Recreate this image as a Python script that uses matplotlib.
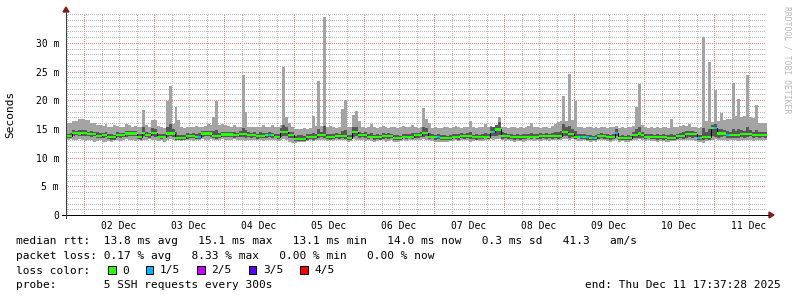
import matplotlib
matplotlib.use('Agg')
import matplotlib.pyplot as plt
import numpy as np
from matplotlib.lines import Line2D
from matplotlib.patches import Rectangle, Polygon

W, H = 797, 297
plt.rcParams['font.family'] = 'DejaVu Sans Mono'
plt.rcParams['lines.scale_dashes'] = False

# time in hours since 2025-12-01 00:00, hourly bins starting Dec 01 18:00
t_end = 10 * 24 + 17 + 37 / 60 + 28 / 3600
t_start = t_end - 240
first_bin = 18

# median rtt per hour (ms)
rtt_med = [
    13.8, 13.8, 14.35, 14.35, 14.2, 14.35, 14.35, 14.1, 14.1, 14.1, 13.8, 13.8, 13.95, 13.95, 13.55, 13.55, 13.55, 13.95, 13.95, 13.95, 14.2, 14.2, 14.2, 14.2,
    13.55, 13.55, 14.35, 13.95, 13.95, 14.35, 14.35, 13.65, 13.65, 13.65, 14.2, 14.2, 14.2, 13.4, 13.4, 13.4, 13.4, 13.8, 13.8, 13.8, 13.65, 13.65, 14.2, 14.2,
    14.2, 14.2, 13.8, 13.8, 13.8, 14.05, 14.05, 14.05, 14.05, 13.95, 13.95, 14.1, 14.1, 14.1, 13.95, 13.95, 13.95, 13.8, 13.8, 13.8, 13.95, 13.95, 13.95, 13.65,
    13.65, 14.5, 14.5, 14.5, 13.95, 13.95, 13.2, 13.2, 13.3, 13.2, 13.55, 13.55, 13.55, 13.55, 13.95, 13.95, 13.95, 13.55, 13.55, 13.55, 13.8, 13.8, 13.8, 13.8,
    13.4, 13.4, 14.5, 14.5, 13.95, 13.95, 13.95, 13.65, 13.65, 13.55, 13.55, 13.55, 13.8, 13.8, 13.8, 13.8, 13.4, 13.4, 13.4, 13.65, 13.65, 13.65, 13.65, 13.95,
    13.95, 13.95, 14.35, 14.35, 13.65, 13.65, 13.55, 13.55, 13.4, 13.4, 13.4, 13.4, 13.65, 13.65, 13.65, 13.8, 13.8, 13.8, 13.8, 13.55, 13.55, 13.55, 13.65, 13.65,
    13.65, 14.5, 14.5, 14.9, 14.9, 13.8, 13.8, 13.8, 13.55, 13.55, 13.55, 13.55, 13.55, 13.65, 13.65, 13.65, 13.65, 13.65, 13.8, 13.8, 13.8, 13.8, 13.8, 13.8,
    13.8, 13.8, 14.5, 14.5, 14.1, 14.1, 13.65, 13.65, 13.65, 13.55, 13.55, 13.4, 13.4, 13.4, 13.8, 13.8, 13.8, 13.55, 13.55, 13.55, 14.35, 13.4, 13.4, 13.4,
    13.4, 13.4, 13.95, 13.95, 14.2, 13.95, 13.65, 13.65, 13.65, 13.55, 13.55, 13.55, 13.55, 13.55, 13.4, 13.4, 13.4, 13.8, 13.8, 13.8, 14.1, 14.1, 14.1, 14.1,
    13.4, 13.4, 13.65, 13.65, 13.65, 15.1, 15.1, 14.2, 14.2, 14.2, 13.95, 13.95, 13.95, 13.95, 13.95, 14.1, 14.1, 14.1, 14.1, 13.95, 13.95, 13.95, 13.95, 13.95,
]

# slowest ping per hour (top of the smoke)
rtt_max = [
    16.1, 16.0, 16.3, 16.3, 16.7, 16.8, 16.6, 16.5, 16.0, 16.1, 15.7, 15.6, 15.5, 15.8, 15.4, 15.3, 15.6, 15.5, 15.3, 15.4, 15.9, 15.6, 15.3, 15.5,
    15.3, 15.4, 18.3, 15.6, 15.3, 16.6, 16.6, 15.5, 15.3, 15.2, 19.8, 22.4, 15.8, 18.9, 16.6, 15.4, 15.2, 15.3, 15.4, 15.3, 15.5, 15.3, 15.4, 15.5,
    15.9, 15.6, 17.1, 19.8, 15.6, 15.8, 15.6, 15.5, 15.4, 15.6, 15.3, 15.4, 24.4, 18.0, 15.4, 15.3, 15.4, 15.3, 15.3, 15.6, 15.3, 15.4, 15.6, 15.3,
    15.4, 15.6, 25.8, 17.1, 16.0, 15.3, 15.0, 14.9, 15.0, 15.1, 15.0, 15.2, 17.3, 15.5, 23.3, 15.5, 34.5, 15.4, 15.5, 15.3, 15.2, 15.3, 18.4, 20.1,
    15.4, 15.3, 17.4, 18.2, 16.3, 15.3, 15.2, 15.3, 15.9, 15.3, 15.2, 15.3, 15.5, 15.3, 15.2, 15.4, 15.3, 15.2, 15.4, 15.5, 15.3, 15.4, 15.6, 15.3,
    15.2, 15.4, 18.6, 16.7, 16.0, 15.2, 15.3, 15.1, 15.2, 15.4, 15.3, 15.2, 15.3, 15.5, 15.3, 15.2, 15.4, 15.3, 16.4, 15.3, 15.2, 15.4, 15.3, 15.8,
    15.4, 15.5, 15.3, 15.6, 17.1, 15.4, 15.3, 15.2, 15.3, 15.4, 15.2, 15.3, 15.2, 15.3, 15.5, 16.0, 15.4, 15.3, 15.2, 15.3, 15.4, 15.2, 15.5, 15.8,
    16.2, 16.4, 20.8, 16.3, 24.6, 16.5, 19.9, 15.4, 15.3, 15.2, 15.4, 15.3, 15.2, 15.3, 15.2, 15.4, 15.3, 15.2, 15.4, 15.3, 15.5, 15.2, 15.3, 15.2,
    15.4, 15.3, 15.5, 18.9, 22.9, 15.6, 15.3, 15.2, 15.3, 15.2, 15.3, 15.2, 15.4, 15.3, 15.2, 16.8, 15.3, 15.4, 15.5, 15.7, 15.5, 15.8, 15.4, 15.3,
    15.2, 15.3, 31.1, 16.3, 26.7, 16.2, 21.7, 16.4, 17.7, 16.5, 16.7, 16.8, 23.0, 17.3, 20.3, 17.1, 17.2, 24.4, 17.1, 16.9, 19.2, 16.1, 16.1, 16.1,
]

# fastest ping per hour (bottom of the smoke)
rtt_min = [
    13.1, 13.2, 13.0, 13.1, 13.2, 13.0, 12.9, 13.1, 13.0, 12.8, 12.9, 13.1, 12.7, 12.8, 12.9, 12.8, 13.0, 13.1, 12.9, 13.1, 13.2, 13.1, 13.0, 12.9,
    13.0, 12.9, 13.1, 13.0, 13.2, 13.1, 13.0, 12.9, 13.0, 12.8, 13.1, 13.2, 13.0, 12.9, 13.0, 12.9, 13.0, 13.1, 13.0, 12.9, 13.0, 13.0, 13.2, 13.1,
    13.1, 13.2, 13.0, 13.1, 13.1, 13.2, 13.1, 13.0, 13.1, 13.2, 13.1, 13.0, 13.1, 12.9, 13.0, 13.1, 13.0, 13.1, 13.0, 12.9, 13.1, 13.0, 13.1, 13.0,
    12.9, 13.0, 13.2, 13.1, 12.7, 12.6, 12.6, 12.7, 12.7, 12.8, 12.9, 13.0, 12.9, 13.0, 13.1, 13.0, 13.1, 12.9, 13.0, 12.9, 13.0, 13.1, 13.1, 13.0,
    12.8, 12.9, 13.2, 13.1, 13.0, 13.1, 12.9, 13.0, 12.9, 12.8, 12.9, 13.0, 13.0, 12.8, 12.9, 13.0, 12.8, 12.7, 12.9, 13.0, 12.9, 13.0, 13.1, 13.0,
    13.0, 13.1, 13.2, 13.0, 13.0, 12.9, 12.8, 12.7, 12.8, 12.7, 12.8, 12.9, 12.9, 13.0, 12.9, 13.0, 13.1, 13.0, 12.8, 12.9, 13.0, 12.9, 12.9, 13.0,
    13.0, 13.2, 13.1, 13.3, 13.2, 13.0, 12.9, 13.0, 12.9, 12.8, 12.9, 12.9, 12.8, 12.9, 13.0, 13.0, 12.9, 13.0, 12.9, 13.0, 13.0, 12.9, 13.0, 13.0,
    13.1, 13.1, 13.2, 13.3, 13.1, 13.2, 13.0, 12.9, 12.9, 13.0, 12.9, 12.8, 12.9, 12.8, 13.0, 13.1, 13.0, 12.9, 12.8, 12.9, 13.1, 12.8, 12.9, 12.8,
    12.8, 12.9, 13.0, 13.1, 13.2, 13.0, 12.9, 13.0, 12.9, 12.9, 12.8, 12.9, 12.9, 12.8, 12.8, 12.9, 12.9, 13.0, 13.1, 13.0, 13.1, 13.1, 13.0, 12.9,
    12.8, 12.7, 12.6, 12.9, 13.0, 13.1, 13.3, 13.1, 13.0, 13.0, 12.9, 13.0, 13.0, 13.1, 12.9, 13.0, 13.1, 13.0, 13.0, 12.9, 13.0, 13.1, 13.0, 13.0,
]

# inner pings (2nd and 4th of 5) as distance above / below the median
spread_up = [
    0.4, 0.5, 0.4, 0.3, 0.6, 0.5, 0.4, 0.4, 0.5, 0.4, 0.6, 0.5, 0.4, 0.5, 0.6, 0.5, 0.4, 0.5, 0.4, 0.4, 0.5, 0.4, 0.4, 0.5,
    0.5, 0.6, 0.9, 0.5, 0.4, 0.8, 0.6, 0.5, 0.4, 0.5, 1.2, 1.6, 0.7, 1.0, 0.6, 0.5, 0.6, 0.5, 0.4, 0.5, 0.5, 0.6, 0.4, 0.5,
    0.5, 0.4, 0.8, 1.0, 0.5, 0.5, 0.4, 0.5, 0.4, 0.5, 0.4, 0.5, 1.1, 0.7, 0.5, 0.4, 0.5, 0.4, 0.6, 0.5, 0.4, 0.5, 0.4, 0.5,
    0.5, 0.6, 1.2, 0.9, 0.6, 0.5, 0.6, 0.7, 0.6, 0.5, 0.6, 0.5, 0.8, 0.6, 1.1, 0.6, 1.5, 0.5, 0.6, 0.5, 0.5, 0.4, 0.9, 1.0,
    0.6, 0.5, 0.9, 0.9, 0.6, 0.4, 0.5, 0.5, 0.6, 0.4, 0.5, 0.4, 0.5, 0.4, 0.5, 0.4, 0.6, 0.5, 0.4, 0.5, 0.4, 0.5, 0.6, 0.4,
    0.4, 0.5, 1.0, 0.8, 0.6, 0.5, 0.4, 0.5, 0.6, 0.5, 0.4, 0.5, 0.4, 0.5, 0.4, 0.5, 0.4, 0.5, 0.7, 0.4, 0.5, 0.4, 0.5, 0.6,
    0.5, 0.8, 0.9, 1.2, 1.3, 0.6, 0.5, 0.4, 0.5, 0.4, 0.5, 0.4, 0.5, 0.4, 0.5, 0.7, 0.5, 0.4, 0.5, 0.4, 0.5, 0.4, 0.5, 0.6,
    0.7, 0.8, 1.3, 0.8, 1.4, 0.8, 1.0, 0.5, 0.4, 0.5, 0.4, 0.5, 0.4, 0.5, 0.4, 0.5, 0.4, 0.5, 0.4, 0.5, 0.6, 0.4, 0.5, 0.4,
    0.5, 0.4, 0.6, 1.0, 1.2, 0.6, 0.5, 0.4, 0.5, 0.4, 0.5, 0.4, 0.5, 0.4, 0.5, 0.8, 0.5, 0.4, 0.5, 0.6, 0.5, 0.6, 0.5, 0.4,
    0.5, 0.6, 1.5, 0.8, 1.4, 0.6, 0.8, 0.7, 0.8, 0.6, 0.7, 0.6, 1.1, 0.7, 1.0, 0.7, 0.6, 1.2, 0.7, 0.6, 0.9, 0.6, 0.5, 0.5,
]
spread_dn = [
    0.4, 0.3, 0.5, 0.4, 0.5, 0.6, 0.5, 0.4, 0.5, 0.4, 0.3, 0.4, 0.5, 0.4, 0.3, 0.4, 0.5, 0.4, 0.5, 0.4, 0.6, 0.5, 0.4, 0.5,
    0.3, 0.4, 0.6, 0.4, 0.5, 0.6, 0.7, 0.3, 0.4, 0.3, 0.6, 0.5, 0.6, 0.3, 0.4, 0.3, 0.4, 0.5, 0.4, 0.3, 0.4, 0.4, 0.6, 0.5,
    0.5, 0.6, 0.4, 0.5, 0.4, 0.5, 0.4, 0.5, 0.4, 0.5, 0.4, 0.5, 0.5, 0.6, 0.4, 0.5, 0.4, 0.5, 0.4, 0.3, 0.5, 0.4, 0.5, 0.3,
    0.4, 0.9, 0.8, 0.7, 0.5, 0.6, 0.3, 0.3, 0.4, 0.3, 0.4, 0.3, 0.4, 0.3, 0.5, 0.4, 0.5, 0.3, 0.4, 0.3, 0.4, 0.5, 0.4, 0.5,
    0.3, 0.4, 0.9, 0.8, 0.5, 0.4, 0.5, 0.4, 0.3, 0.4, 0.3, 0.4, 0.5, 0.4, 0.5, 0.4, 0.3, 0.3, 0.4, 0.3, 0.4, 0.3, 0.4, 0.5,
    0.5, 0.4, 0.7, 0.6, 0.4, 0.3, 0.4, 0.3, 0.3, 0.4, 0.3, 0.4, 0.3, 0.4, 0.5, 0.4, 0.5, 0.4, 0.5, 0.3, 0.4, 0.3, 0.4, 0.3,
    0.4, 0.8, 0.8, 1.1, 1.0, 0.5, 0.4, 0.5, 0.3, 0.4, 0.3, 0.4, 0.3, 0.4, 0.3, 0.4, 0.3, 0.4, 0.5, 0.4, 0.5, 0.4, 0.5, 0.4,
    0.5, 0.4, 0.8, 0.7, 0.6, 0.5, 0.4, 0.3, 0.4, 0.3, 0.4, 0.3, 0.4, 0.3, 0.5, 0.4, 0.5, 0.3, 0.4, 0.3, 0.6, 0.3, 0.4, 0.3,
    0.3, 0.4, 0.5, 0.6, 0.7, 0.5, 0.4, 0.3, 0.4, 0.3, 0.4, 0.3, 0.4, 0.3, 0.3, 0.4, 0.3, 0.5, 0.4, 0.5, 0.6, 0.5, 0.6, 0.5,
    0.3, 0.4, 0.6, 0.4, 0.5, 1.4, 1.5, 0.7, 0.6, 0.5, 0.6, 0.5, 0.6, 0.5, 0.6, 0.5, 0.6, 0.5, 0.4, 0.5, 0.4, 0.5, 0.4, 0.5,
]

# hours (bin index) where 1 of 5 pings was lost
loss_1of5_bins = [45, 69, 127, 146, 176, 178, 180, 188, 216, 222, 226]

day_labels = ['02 Dec', '03 Dec', '04 Dec', '05 Dec', '06 Dec',
              '07 Dec', '08 Dec', '09 Dec', '10 Dec', '11 Dec']
y_ticks = [0, 5, 10, 15, 20, 25, 30]
y_labels = ['0', '5 m', '10 m', '15 m', '20 m', '25 m', '30 m']

loss_names = ['0', '1/5', '2/5', '3/5', '4/5']
loss_colors = ['#26ff00', '#00b8ff', '#c800ff', '#5a00ff', '#ff0000']

stat_lines = [
    'median rtt:  13.8 ms avg   15.1 ms max   13.1 ms min   14.0 ms now   0.3 ms sd   41.3   am/s',
    'packet loss: 0.17 % avg   8.33 % max   0.00 % min   0.00 % now',
    'loss color:',
    'probe:       5 SSH requests every 300s',
]
end_text = 'end: Thu Dec 11 17:37:28 2025'

# ---------------------------------------------------------------------------
med = np.array(rtt_med)
mx = np.array(rtt_max)
mn = np.array(rtt_min)
inner_hi = np.minimum(med + np.array(spread_up), mx)
inner_lo = np.maximum(med - np.array(spread_dn), mn)
edges = first_bin + np.arange(len(med) + 1)


def ext(a):
    return np.append(a, a[-1])


def fx(px):
    return px / W


def fy(py):
    return 1 - py / H


fig = plt.figure(figsize=(W / 100, H / 100), dpi=100)
fig.patch.set_facecolor('white')
ax = fig.add_axes([fx(65.5), fy(215), 700 / W, (215 - 13) / H])
ax.set_xlim(t_start, t_end)
ax.set_ylim(0, 35.2)
for s in ax.spines.values():
    s.set_visible(False)

# grid (sparse 1px dots, under the data)
px = 0.72
dot = (0, (px, 2 * px))
minor_c, major_c = '#b8b8b8', '#f08080'
for v in range(1, 36):
    c = major_c if (v % 5 == 0 and v <= 30) else minor_c
    ax.axhline(v, color=c, lw=px, ls=dot, antialiased=False, zorder=1)
for h in range(18, int(t_end) + 1, 6):
    c = major_c if h % 24 == 0 else minor_c
    ax.axvline(h, color=c, lw=px, ls=dot, antialiased=False, zorder=1)

# smoke
ax.fill_between(edges, ext(mn), ext(mx), step='post', color='#a4a4a4', lw=0, zorder=2)
ax.fill_between(edges, ext(inner_lo), ext(inner_hi), step='post', color='#585858', lw=0, zorder=3)

# median line, coloured by loss
ax.step(edges, ext(med), where='post', color='black', lw=px, zorder=4)
ax.fill_between(edges, ext(med - 0.2), ext(med + 0.2), step='post',
                color=loss_colors[0], lw=0, zorder=5)
for k in loss_1of5_bins:
    ax.bar(edges[k], 0.4, bottom=med[k] - 0.2, width=1, align='edge',
           color=loss_colors[1], lw=0, zorder=6)

# ticks
ax.set_xticks([24 * d + 12 for d in range(1, 11)], day_labels)
ax.set_yticks(y_ticks, y_labels)
ax.tick_params(length=0, labelsize=7, colors='black')
ax.tick_params(axis='x', pad=4.3)
ax.tick_params(axis='y', pad=4.6)

# axis lines and arrows
fig.add_artist(Line2D([fx(62), fx(769)], [fy(215), fy(215)], color='black', lw=px))
fig.add_artist(Line2D([fx(66), fx(66)], [fy(218), fy(11)], color='#404040', lw=px))
fig.add_artist(Polygon([[fx(66), fy(7)], [fx(63), fy(12)], [fx(69), fy(12)]],
                       closed=True, color='#8b1a1a', transform=fig.transFigure))
fig.add_artist(Polygon([[fx(774), fy(215)], [fx(769), fy(212)], [fx(769), fy(218)]],
                       closed=True, color='#8b1a1a', transform=fig.transFigure))

fig.text(fx(10), fy(114), 'Seconds', rotation=90, ha='center', va='center', fontsize=8)
fig.text(fx(787), fy(60), 'RRDTOOL / TOBI OETIKER', rotation=270, ha='center',
         va='center', fontsize=5.9, color='#b8b8b8')

# legend block
baselines = [244.5, 259, 273.5, 288]
for line, b in zip(stat_lines, baselines):
    fig.text(fx(16), fy(b), line, ha='left', va='baseline', fontsize=8)
fig.text(fx(781), fy(baselines[3]), end_text, ha='right', va='baseline', fontsize=8)

box_x = [108, 145.5, 197, 248.5, 300]
for bx, name, col in zip(box_x, loss_names, loss_colors):
    fig.add_artist(Rectangle((fx(bx), fy(273.5)), 7.5 / W, 8 / H, transform=fig.transFigure,
                             facecolor=col, edgecolor='black', lw=px))
    fig.text(fx(bx + 14.5), fy(baselines[2]), name, ha='left', va='baseline', fontsize=8)

fig.savefig('out.png', dpi=100, facecolor='white')
